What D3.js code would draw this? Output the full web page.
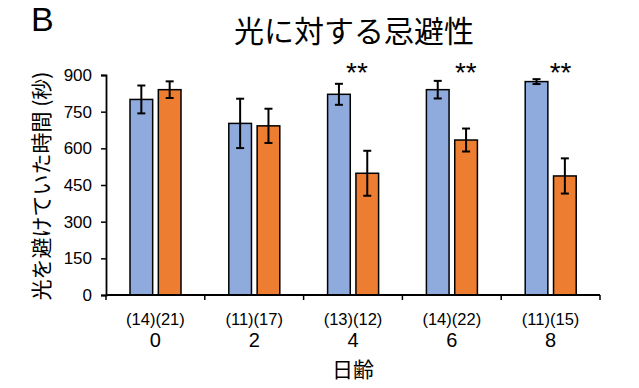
<!DOCTYPE html>
<html>
<head>
<meta charset="utf-8">
<script src="https://cdn.jsdelivr.net/npm/d3@7"></script>
<style>
  body { margin: 0; background: #fff; }
  text { font-family: "Liberation Sans", Arial, sans-serif; }
  .jp { font-family: "Noto Sans CJK JP", sans-serif; }
</style>
</head>
<body>
<div id="chart"></div>
<script>
const days = ['0', '2', '4', '6', '8'];
const counts = ['(14)(21)', '(11)(17)', '(13)(12)', '(14)(22)', '(11)(15)'];
const series = ['control', 'treated'];
const meanControl = [800, 702, 821, 840, 873];
const errControl = [57, 101, 43, 36, 10];
const meanTreated = [840, 692, 498, 634, 487];
const errTreated = [34, 70, 92, 47, 72];
const yTicks = [0, 150, 300, 450, 600, 750, 900];
const stars = ['', '', '**', '**', '**'];
const starShift = [0, 0, 4, 14, 10];

const colors = { control: '#8faadc', treated: '#ed7d31' };

const config = {
  width: 639,
  height: 388,
  left: 106,
  right: 600,
  top: 75,
  bottom: 295
};

const svg = d3.select('#chart')
  .append('svg')
  .attr('width', config.width)
  .attr('height', config.height);

const x = d3.scaleBand()
  .domain(days)
  .range([config.left, config.right]);

const xInner = d3.scaleBand()
  .domain(series)
  .range([24, 75])
  .paddingInner(0.2);

const y = d3.scaleLinear()
  .domain([0, 900])
  .range([config.bottom, config.top]);

const data = days.flatMap((d, i) => [
  { day: d, s: 'control', v: meanControl[i], e: errControl[i] },
  { day: d, s: 'treated', v: meanTreated[i], e: errTreated[i] }
]);

// bars
svg.selectAll('.bar')
  .data(data)
  .enter()
  .append('rect')
  .attr('x', d => x(d.day) + xInner(d.s))
  .attr('y', d => y(d.v))
  .attr('width', xInner.bandwidth())
  .attr('height', d => y(0) - y(d.v))
  .attr('fill', d => colors[d.s])
  .attr('stroke', '#000')
  .attr('stroke-width', 1.5);

// error bars
const eb = svg.selectAll('.err')
  .data(data)
  .enter()
  .append('g')
  .attr('transform', d => `translate(${x(d.day) + xInner(d.s) + xInner.bandwidth() / 2},0)`);
eb.append('line')
  .attr('y1', d => y(d.v + d.e))
  .attr('y2', d => y(d.v - d.e))
  .attr('stroke', '#000').attr('stroke-width', 2);
eb.append('line')
  .attr('x1', -4).attr('x2', 4)
  .attr('y1', d => y(d.v + d.e)).attr('y2', d => y(d.v + d.e))
  .attr('stroke', '#000').attr('stroke-width', 2);
eb.append('line')
  .attr('x1', -4).attr('x2', 4)
  .attr('y1', d => y(d.v - d.e)).attr('y2', d => y(d.v - d.e))
  .attr('stroke', '#000').attr('stroke-width', 2);

// y axis
const yAxis = svg.append('g')
  .attr('transform', `translate(${config.left},0)`)
  .call(d3.axisLeft(y).tickValues(yTicks).tickSize(5).tickPadding(9));
yAxis.select('.domain').attr('stroke-width', 1.8);
yAxis.selectAll('.tick line').attr('stroke-width', 1.5);
yAxis.selectAll('.tick text')
  .attr('font-size', 17)
  .attr('fill', '#000')
  .style('font-family', '"Liberation Sans", Arial, sans-serif');

// x axis
svg.append('line')
  .attr('x1', config.left).attr('x2', config.right)
  .attr('y1', y(0)).attr('y2', y(0))
  .attr('stroke', '#000').attr('stroke-width', 1.8);
const tickPos = days.map(d => x(d)).concat([config.right]);
svg.selectAll('.xtick')
  .data(tickPos)
  .enter()
  .append('line')
  .attr('x1', d => d).attr('x2', d => d)
  .attr('y1', y(0)).attr('y2', y(0) + 5)
  .attr('stroke', '#000').attr('stroke-width', 1.5);

svg.selectAll('.count')
  .data(days)
  .enter()
  .append('text')
  .attr('x', d => x(d) + x.bandwidth() / 2)
  .attr('y', 325)
  .attr('text-anchor', 'middle')
  .attr('font-size', 16.5)
  .text((d, i) => counts[i]);

svg.selectAll('.day')
  .data(days)
  .enter()
  .append('text')
  .attr('x', d => x(d) + x.bandwidth() / 2)
  .attr('y', 347)
  .attr('text-anchor', 'middle')
  .attr('font-size', 20)
  .text(d => d);

// significance
svg.selectAll('.star')
  .data(days)
  .enter()
  .append('text')
  .attr('x', (d, i) => x(d) + x.bandwidth() / 2 + starShift[i])
  .attr('y', 82)
  .attr('text-anchor', 'middle')
  .attr('font-size', 28)
  .text((d, i) => stars[i]);

// titles
svg.append('text')
  .attr('x', 31).attr('y', 31)
  .attr('font-size', 34)
  .text('B');

svg.append('text')
  .attr('class', 'jp')
  .attr('x', 354).attr('y', 42)
  .attr('text-anchor', 'middle')
  .attr('font-size', 30)
  .text('光に対する忌避性');

svg.append('text')
  .attr('class', 'jp')
  .attr('transform', `translate(49,${(config.top + config.bottom) / 2 + 1}) rotate(-90)`)
  .attr('text-anchor', 'middle')
  .attr('font-size', 21)
  .text('光を避けていた時間 (秒)');

svg.append('text')
  .attr('class', 'jp')
  .attr('x', (config.left + config.right) / 2)
  .attr('y', 377)
  .attr('text-anchor', 'middle')
  .attr('font-size', 21)
  .text('日齢');
</script>
</body>
</html>
